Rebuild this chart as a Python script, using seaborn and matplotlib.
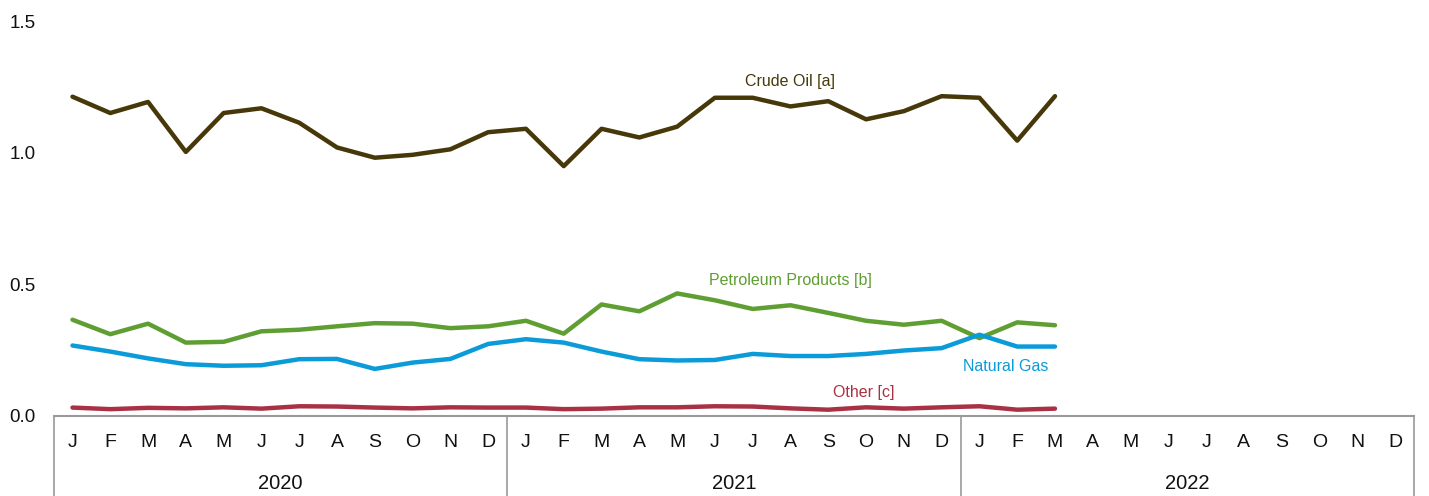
import pandas as pd
import matplotlib
matplotlib.use('Agg')
import matplotlib.pyplot as plt
import matplotlib.transforms as mtransforms
import seaborn as sns

# Monthly values, Jan 2020 - Mar 2022
months = ['J', 'F', 'M', 'A', 'M', 'J', 'J', 'A', 'S', 'O', 'N', 'D']
years = ['2020', '2021', '2022']

crude_oil = [1.214, 1.152, 1.194, 1.004, 1.152, 1.170, 1.115, 1.021, 0.982, 0.993, 1.014, 1.079,
             1.092, 0.950, 1.092, 1.059, 1.100, 1.210, 1.210, 1.177, 1.197, 1.128, 1.159, 1.216,
             1.210, 1.047, 1.216]
petroleum = [0.366, 0.311, 0.351, 0.279, 0.282, 0.322, 0.328, 0.341, 0.353, 0.351, 0.334, 0.341,
             0.362, 0.313, 0.424, 0.398, 0.466, 0.440, 0.407, 0.421, 0.392, 0.362, 0.347, 0.362,
             0.296, 0.356, 0.345]
natural_gas = [0.268, 0.245, 0.219, 0.197, 0.191, 0.193, 0.216, 0.217, 0.179, 0.203, 0.217, 0.274,
               0.292, 0.279, 0.245, 0.216, 0.211, 0.213, 0.236, 0.228, 0.228, 0.236, 0.249, 0.258,
               0.309, 0.264, 0.264]
other = [0.032, 0.026, 0.031, 0.029, 0.033, 0.028, 0.037, 0.036, 0.032, 0.029, 0.033, 0.032,
         0.032, 0.026, 0.028, 0.033, 0.033, 0.037, 0.036, 0.029, 0.024, 0.033, 0.028, 0.033,
         0.037, 0.024, 0.028]

series_names = ['Crude Oil [a]', 'Petroleum Products [b]', 'Natural Gas', 'Other [c]']
colors = ['#463808', '#5f9e32', '#0a9bd8', '#a83244']

rows = []
for name, vals in zip(series_names, [crude_oil, petroleum, natural_gas, other]):
    for i, v in enumerate(vals):
        rows.append({'month': i, 'value': v, 'series': name})
df = pd.DataFrame(rows)

sns.set_style('white')
plt.rcParams['font.family'] = ['Liberation Sans', 'DejaVu Sans']

fig = plt.figure(figsize=(14.29, 4.96), dpi=100)
ax = fig.add_axes([0.0375, 0.1613, 0.952, 0.7954])

sns.lineplot(data=df, x='month', y='value', hue='series', palette=colors,
             hue_order=series_names, linewidth=3.2, ax=ax, legend=False)

n_months = len(months) * len(years)
ax.set_xlim(-0.5, n_months - 0.5)
ax.set_ylim(0, 1.5)
ax.set_yticks([0.0, 0.5, 1.0, 1.5])
ax.set_yticklabels(['0.0', '0.5', '1.0', '1.5'])
ax.set_xticks(range(n_months))
ax.set_xticklabels(months * len(years))
ax.set_xlabel('')
ax.set_ylabel('')

for side in ['left', 'right', 'top']:
    ax.spines[side].set_visible(False)
ax.spines['bottom'].set_color('#999999')
ax.spines['bottom'].set_linewidth(1.5)

ax.tick_params(axis='y', length=0, pad=13, labelsize=13.5, labelcolor='#111111')
ax.tick_params(axis='x', direction='in', length=4, width=1, color='#999999',
               pad=13, labelsize=14, labelcolor='#111111')

# year separators and labels below the axis
trans = mtransforms.blended_transform_factory(ax.transData, ax.transAxes)
for k in range(len(years) + 1):
    xb = k * 12 - 0.5
    ax.plot([xb, xb], [0, -0.21], transform=trans, color='#999999',
            linewidth=1.2, clip_on=False)
for k, yr in enumerate(years):
    ax.text(k * 12 + 5.5, -0.172, yr, transform=trans, ha='center', va='center',
            fontsize=14.5, color='#111111')

# series labels
ax.text(19.0, 1.27, 'Crude Oil [a]', ha='center', va='center', fontsize=11.5, color=colors[0])
ax.text(19.0, 0.515, 'Petroleum Products [b]', ha='center', va='center', fontsize=11.5, color=colors[1])
ax.text(24.7, 0.19, 'Natural Gas', ha='center', va='center', fontsize=11.5, color=colors[2])
ax.text(20.95, 0.088, 'Other [c]', ha='center', va='center', fontsize=11.5, color=colors[3])

fig.savefig('out.png', dpi=100)
plt.close()
